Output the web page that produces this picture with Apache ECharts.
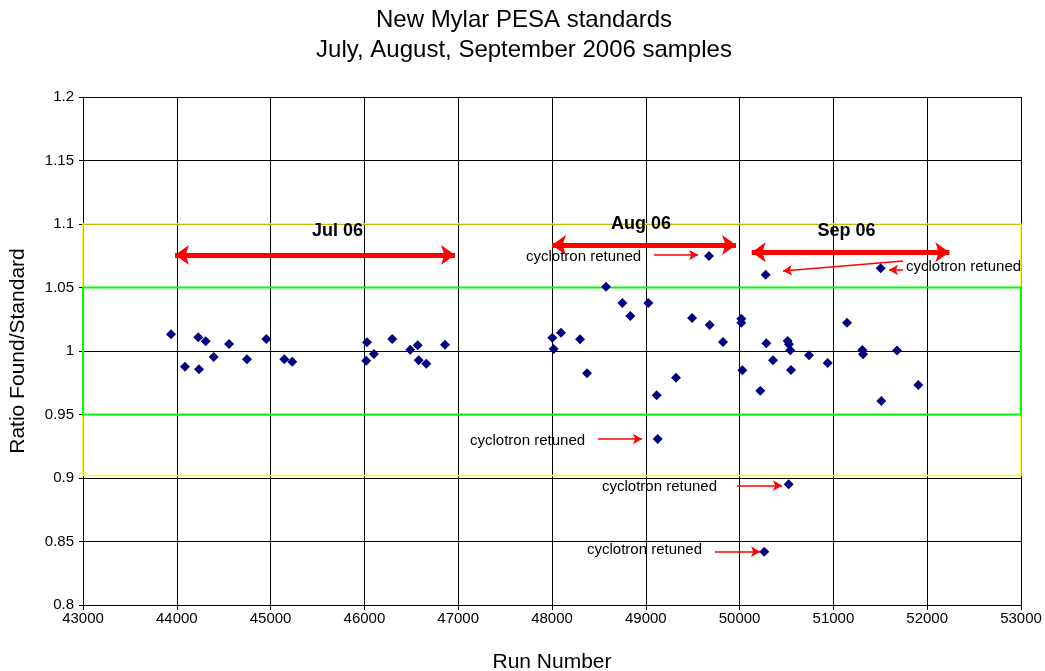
<!DOCTYPE html>
<html>
<head>
<meta charset="utf-8">
<script src="https://cdn.jsdelivr.net/npm/echarts@6/dist/echarts.min.js"></script>
<style>
  html, body { margin: 0; padding: 0; background: #fff; }
  #chart { width: 1045px; height: 671px; }
</style>
</head>
<body>
<div id="chart"></div>
<script>
// run numbers and ratio found/standard
const runNumbers = [
  43938, 44087, 44229, 44237, 44308, 44393, 44557, 44748, 44954, 45146, 45231,
  46028, 46020, 46102, 46297, 46489, 46568, 46579, 46660, 46859,
  48003, 48018, 48096, 48299, 48373, 48576, 48750, 48835, 49027, 49116, 49127,
  49322, 49493, 49674, 49681, 49823,
  50018, 50018, 50029, 50221, 50263, 50278, 50285, 50356, 50512, 50523, 50526,
  50540, 50548, 50740, 50939, 51145, 51308, 51316, 51504, 51511, 51678, 51905
]
const ratios = [
  1.0132, 0.9876, 1.0108, 0.9856, 1.0076, 0.9953, 1.0055, 0.9935, 1.0094, 0.9935, 0.9916,
  1.0069, 0.9924, 0.9976, 1.0094, 1.0010, 1.0045, 0.9927, 0.9900, 1.0050,
  1.0105, 1.0016, 1.0144, 1.0092, 0.9824, 1.0506, 1.0378, 1.0276, 1.0378, 0.9651, 0.9307,
  0.9790, 1.0260, 1.0748, 1.0205, 1.0070,
  1.0254, 1.0223, 0.9848, 0.9687, 0.8420, 1.0601, 1.0061, 0.9927, 1.0079, 0.8950, 1.0053,
  1.0006, 0.9850, 0.9966, 0.9906, 1.0223, 1.0008, 0.9974, 1.0651, 0.9606, 1.0003, 0.9732
]

// axis ticks
const xMin = 43000, xMax = 53000, xStep = 1000
const yMin = 0.8, yMax = 1.2, yStep = 0.05

// limit boxes
const outerBox = [0.902, 1.1]
const innerBox = [0.95, 1.05]

// month spans
const periodNames = ['Jul 06', 'Aug 06', 'Sep 06']
const periodStart = [43981, 48000, 50129]
const periodEnd = [46966, 49962, 52236]
const periodArrowY = [1.0756, 1.0835, 1.0777]
const periodLabelX = [45713, 48949, 51139]
const periodLabelY = [1.0947, 1.1000, 1.0947]

// "cyclotron retuned" notes
const noteText = 'cyclotron retuned'
const noteX = [47723, 51774, 47126, 48533, 48373]
const noteY = [1.0740, 1.0661, 0.9291, 0.8929, 0.8433]
const noteArrowFrom = [[49087, 1.0756], [51742, 1.0709], [51742, 1.0638], [48490, 0.9307], [49972, 0.8940], [49738, 0.8420]]
const noteArrowTo = [[49557, 1.0756], [50463, 1.0630], [51593, 1.0638], [48959, 0.9307], [50452, 0.8940], [50218, 0.8420]]

const points = runNumbers.map((x, i) => [x, ratios[i]])

const chart = echarts.init(document.getElementById('chart'))

const option = {
  animation: false,
  textStyle: { fontFamily: 'Liberation Sans, Arial, sans-serif' },
  title: {
    text: 'New Mylar PESA standards\nJuly, August, September 2006 samples',
    left: 519,
    textAlign: 'center',
    top: 0,
    textStyle: { fontSize: 24, fontWeight: 'normal', color: '#000', lineHeight: 30 }
  },
  grid: { left: 83, right: 24, top: 97, bottom: 66, outerBoundsMode: 'none' },
  xAxis: {
    type: 'value',
    min: xMin,
    max: xMax,
    interval: xStep,
    name: 'Run Number',
    nameLocation: 'middle',
    nameGap: 47,
    nameTextStyle: { fontSize: 21, color: '#000' },
    axisLine: { lineStyle: { color: '#000' } },
    axisTick: { show: true, length: 5, lineStyle: { color: '#000' } },
    axisLabel: { fontSize: 15, color: '#000', margin: 6, formatter: v => String(v) },
    splitLine: { show: true, lineStyle: { color: '#000', width: 1 } }
  },
  yAxis: {
    type: 'value',
    min: yMin,
    max: yMax,
    interval: yStep,
    name: 'Ratio Found/Standard',
    nameLocation: 'middle',
    nameGap: 54,
    nameTextStyle: { fontSize: 21, color: '#000' },
    axisLine: { show: true, lineStyle: { color: '#000' } },
    axisTick: { show: true, length: 4, lineStyle: { color: '#000' } },
    axisLabel: {
      fontSize: 15,
      color: '#000',
      margin: 9,
      formatter: v => String(parseFloat(v.toFixed(2)))
    },
    splitLine: { show: true, lineStyle: { color: '#000', width: 1 } }
  },
  series: [
    {
      name: 'limits',
      type: 'scatter',
      data: [],
      silent: true,
      markArea: {
        silent: true,
        data: [
          [
            { coord: [xMin, outerBox[1]], itemStyle: { color: 'rgba(0,0,0,0)', borderColor: '#ffff00', borderWidth: 1.5 } },
            { coord: [xMax, outerBox[0]] }
          ],
          [
            { coord: [xMin, innerBox[1]], itemStyle: { color: 'rgba(0,0,0,0)', borderColor: '#00ff00', borderWidth: 2 } },
            { coord: [xMax, innerBox[0]] }
          ]
        ]
      }
    },
    {
      name: 'Ratio',
      type: 'scatter',
      data: points,
      symbol: 'diamond',
      symbolSize: 10,
      itemStyle: { color: '#000080', opacity: 1 },
      z: 5
    },
    {
      name: 'periods',
      type: 'scatter',
      data: periodNames.map((n, i) => ({ name: n, value: [periodLabelX[i], periodLabelY[i]] })),
      symbolSize: 0,
      silent: true,
      itemStyle: { opacity: 1 },
      label: {
        show: true,
        position: 'inside',
        formatter: '{b}',
        fontSize: 18,
        fontWeight: 'bold',
        color: '#000'
      },
      markLine: {
        silent: true,
        symbol: ['arrow', 'arrow'],
        symbolSize: [15, 14],
        label: { show: false },
        lineStyle: { color: '#ff0000', width: 5, type: 'solid', opacity: 1 },
        data: periodNames.map((n, i) => [
          { coord: [periodStart[i], periodArrowY[i]] },
          { coord: [periodEnd[i], periodArrowY[i]] }
        ])
      }
    },
    {
      name: 'notes',
      type: 'scatter',
      data: noteX.map((x, i) => [x, noteY[i]]),
      symbolSize: 0,
      silent: true,
      itemStyle: { opacity: 1 },
      label: {
        show: true,
        position: 'right',
        distance: 0,
        formatter: noteText,
        fontSize: 15,
        color: '#000'
      },
      markLine: {
        silent: true,
        symbol: ['none', 'arrow'],
        symbolSize: [8, 9],
        label: { show: false },
        lineStyle: { color: '#ff0000', width: 1.5, type: 'solid', opacity: 1 },
        data: noteArrowFrom.map((p, i) => [{ coord: p }, { coord: noteArrowTo[i] }])
      }
    }
  ]
}

chart.setOption(option)
</script>
</body>
</html>
